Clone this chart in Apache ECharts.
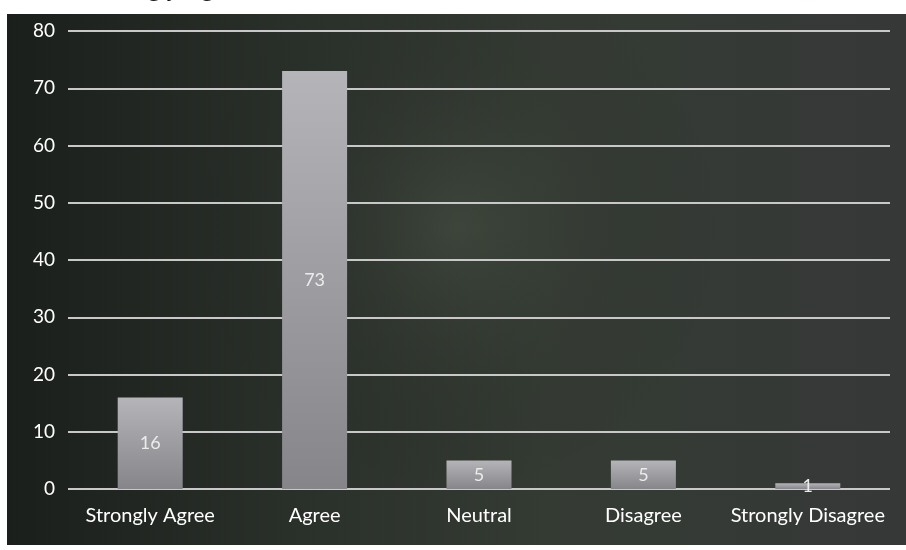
<!DOCTYPE html>
<html><head><meta charset="utf-8">
<script src="https://cdn.jsdelivr.net/npm/echarts@6/dist/echarts.min.js"></script>
<style>html,body{margin:0;padding:0;background:#fff}#c{width:906px;height:550px}</style>
</head><body><div id="c"></div>
<script>
const categories = ['Strongly Agree', 'Agree', 'Neutral', 'Disagree', 'Strongly Disagree'];
const values = [16, 73, 5, 5, 1];
const yTicks = [0, 10, 20, 30, 40, 50, 60, 70, 80];

const chart = echarts.init(document.getElementById('c'), null, {renderer: 'canvas'});
chart.setOption({
  backgroundColor: '#ffffff',
  animation: false,
  graphic: [
    {type: 'text', left: 96, top: -22, z: 0, style: {text: 'Strongly  agree', font: '24px "Liberation Serif"', fill: '#111'}},
    {type: 'rect', shape: {x: 7, y: 14, width: 899, height: 531}, z: -10, silent: true,
      style: {fill: new echarts.graphic.LinearGradient(0, 0, 1, 0, [
        {offset: 0, color: '#1b1f1c'}, {offset: 0.35, color: '#2b312b'},
        {offset: 0.6, color: '#343b33'}, {offset: 1, color: '#363838'}])}},
    {type: 'rect', shape: {x: 7, y: 14, width: 899, height: 531}, z: -9, silent: true,
      style: {fill: new echarts.graphic.RadialGradient(0.5, 0.4, 0.5, [
        {offset: 0, color: 'rgba(90,100,85,0.3)'}, {offset: 1, color: 'rgba(20,22,20,0.0)'}])}}
  ],
  grid: {left: 68, right: 16, top: 31, bottom: 61, containLabel: false},
  xAxis: {
    type: 'category', data: categories,
    axisLine: {show: false}, axisTick: {show: false},
    axisLabel: {color: '#ffffff', fontFamily: 'Lato', fontSize: 20, margin: 17, interval: 0}
  },
  yAxis: {
    type: 'value', min: 0, max: 80, interval: 10,
    axisLine: {show: false}, axisTick: {show: false},
    axisLabel: {color: '#ffffff', fontFamily: 'Lato', fontSize: 19, margin: 13,
      formatter: v => yTicks.includes(v) ? String(v) : ''},
    splitLine: {lineStyle: {color: '#c8c8c8', width: 2}}
  },
  series: [{
    type: 'bar', data: values, barWidth: 65,
    itemStyle: {color: new echarts.graphic.LinearGradient(0, 0, 0, 1, [
      {offset: 0, color: '#b4b4b9'}, {offset: 1, color: '#85858a'}])},
    label: {show: true, position: 'inside', color: '#ececec', fontFamily: 'Lato', fontSize: 18}
  }]
});
</script></body></html>
